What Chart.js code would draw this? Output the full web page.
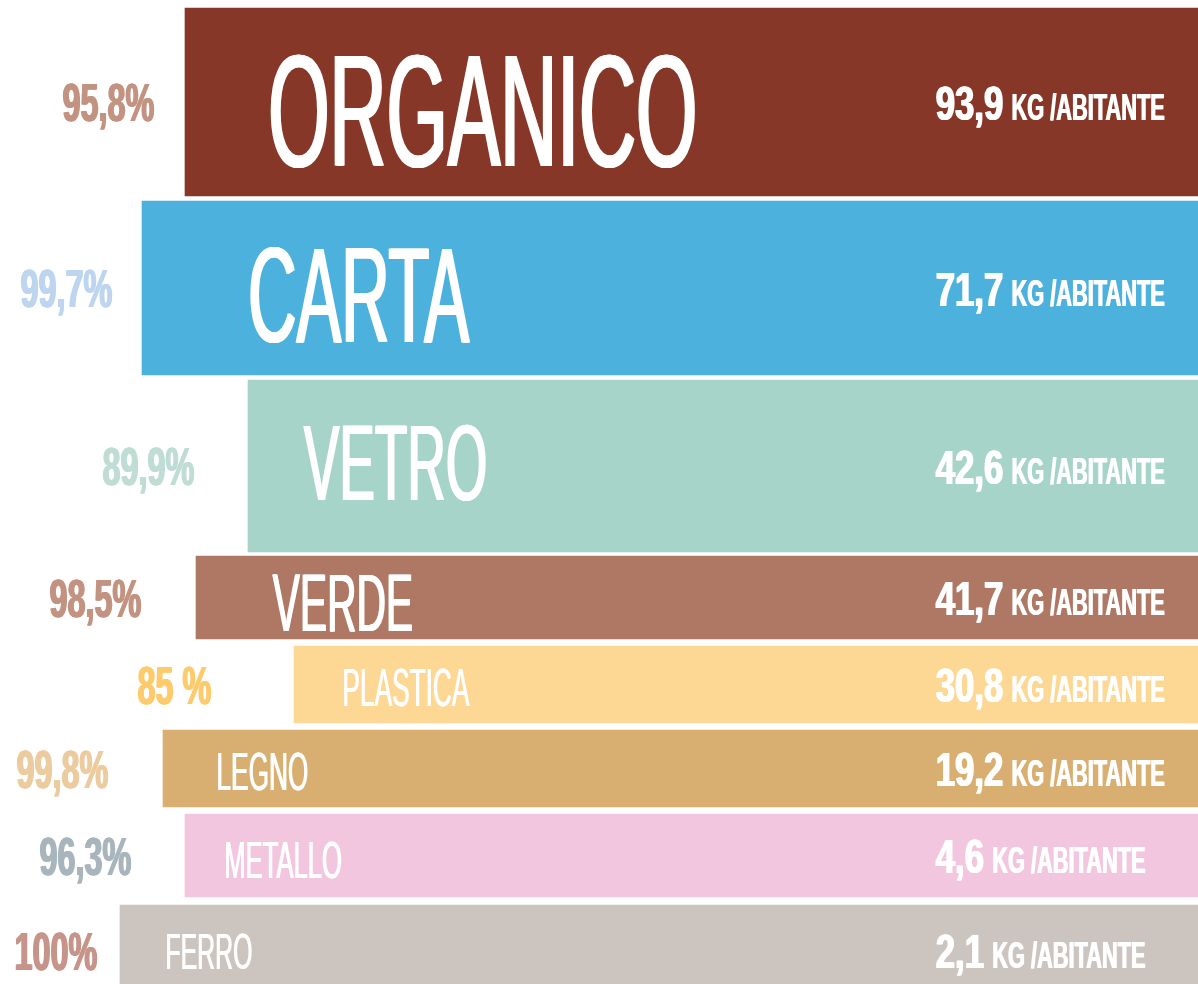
<!DOCTYPE html>
<html>
<head>
<meta charset="utf-8">
<script src="https://cdn.jsdelivr.net/npm/chart.js@4/dist/chart.umd.min.js"></script>
<style>
  html, body { margin: 0; padding: 0; background: #ffffff; }
  #wrap { width: 1198px; height: 984px; }
</style>
</head>
<body>
<div id="wrap"><canvas id="c" width="1198" height="984"></canvas></div>
<script>
// ---- data ----
const categories   = ['ORGANICO', 'CARTA', 'VETRO', 'VERDE', 'PLASTICA', 'LEGNO', 'METALLO', 'FERRO'];
const kgPerPerson  = [93.9, 71.7, 42.6, 41.7, 30.8, 19.2, 4.6, 2.1];
const percentages  = [95.8, 99.7, 89.9, 98.5, 85, 99.8, 96.3, 100];
const percentTexts = ['95,8%', '99,7%', '89,9%', '98,5%', '85 %', '99,8%', '96,3%', '100%'];
// bar extents on the chart's own axes (x: horizontal scale, y: vertical band scale)
const barStart   = [185, 142, 248, 196, 294, 163, 185, 120];
const barEnd     = [1198, 1198, 1198, 1198, 1198, 1198, 1198, 1198];
const bandTop    = [8, 201, 380, 556, 646, 730, 814, 905];
const bandBottom = [196, 375, 552, 639, 723, 807, 897, 996];

// ---- styles ----
const barColors = ['#873727', '#4DB1DE', '#A7D4C8', '#AE7864', '#FDD794', '#D9AF71', '#F3C6DF', '#CCC4BE'];
const pctColors = ['#C39382', '#BDD5EF', '#BFDDD5', '#C39382', '#FDCB6C', '#ECCB9F', '#A9B5BD', '#C69489'];
const labelCap    = [114, 97, 77, 59, 38, 38, 37, 36];     // cap height of category label
const labelOffset = [82, 105, 55, 76, 48, 53, 39, 45];     // label distance from bar start
const labelShift  = [7, 5, -5, 4, 2, 2, 4, 0];             // vertical nudge of label
const pctGap      = [30, 29, 53, 54, 82, 54, 53, 22];      // gap between % label and bar

function fmt(v) { return v.toFixed(1).replace('.', ','); }

function drawCond(ctx, text, x, yc, cap, weight, sx, align, color, smear) {
  const size = cap / 0.716;
  ctx.save();
  ctx.font = weight + ' ' + size + 'px "Liberation Sans", Arial, sans-serif';
  ctx.fillStyle = color;
  ctx.textBaseline = 'alphabetic';
  ctx.textAlign = 'left';
  const sm = smear || 0;
  const w = ctx.measureText(text).width * sx + sm;
  let left = x;
  if (align === 'right') left = x - w;
  const steps = sm ? Math.max(2, Math.ceil(sm) + 1) : 1;
  for (let k = 0; k < steps; k++) {
    const dx = sm ? (k * sm / (steps - 1)) : 0;
    ctx.save();
    ctx.translate(left + dx, yc + cap / 2);
    ctx.scale(sx, 1);
    ctx.fillText(text, 0, 0);
    ctx.restore();
  }
  ctx.restore();
  return w;
}

const textPlugin = {
  id: 'barTexts',
  afterDatasetsDraw(chart) {
    const ctx = chart.ctx;
    chart.data.datasets.forEach((ds, i) => {
      const el = chart.getDatasetMeta(i).data[0];
      if (!el) return;
      const p = el.getProps(['x', 'y', 'base', 'height'], true);
      const left = Math.min(p.x, p.base);
      const right = Math.max(p.x, p.base);
      const yc = p.y;
      // category label
      drawCond(ctx, categories[i], left + labelOffset[i], yc + labelShift[i], labelCap[i], 'normal', 0.495, 'left', '#ffffff', labelCap[i] * 0.022);
      // value label
      const nx = right - 263;
      const wNum = drawCond(ctx, fmt(kgPerPerson[i]), nx, yc, 35, 'bold', 0.71, 'left', '#ffffff', 1.5);
      drawCond(ctx, 'KG /ABITANTE', nx + wNum + 7, yc + 4.5, 26, 'bold', 0.6, 'left', '#ffffff', 1);
      // percentage
      drawCond(ctx, percentTexts[i], left - pctGap[i], yc, 38, 'bold', 0.61, 'right', pctColors[i], 1.5);
    });
  }
};

const datasets = categories.map((name, i) => ({
  label: name,
  data: [{ y: (bandTop[i] + bandBottom[i]) / 2, x: [barStart[i], barEnd[i]] }],
  backgroundColor: barColors[i],
  borderWidth: 0,
  borderSkipped: false,
  grouped: false,
  stack: 'bars',
  barThickness: (ctx) => {
    const ys = ctx.chart.scales.y;
    return Math.abs(ys.getPixelForValue(bandBottom[i]) - ys.getPixelForValue(bandTop[i]));
  }
}));

new Chart(document.getElementById('c'), {
  type: 'bar',
  data: { datasets },
  options: {
    indexAxis: 'y',
    responsive: false,
    animation: false,
    layout: { padding: 0 },
    plugins: { legend: { display: false }, tooltip: { enabled: false } },
    scales: {
      x: { type: 'linear', min: 0, max: 1198, display: false, stacked: false, offset: false },
      y: { type: 'linear', min: 0, max: 984, reverse: true, display: false, offset: false }
    }
  },
  plugins: [textPlugin]
});
</script>
</body>
</html>
